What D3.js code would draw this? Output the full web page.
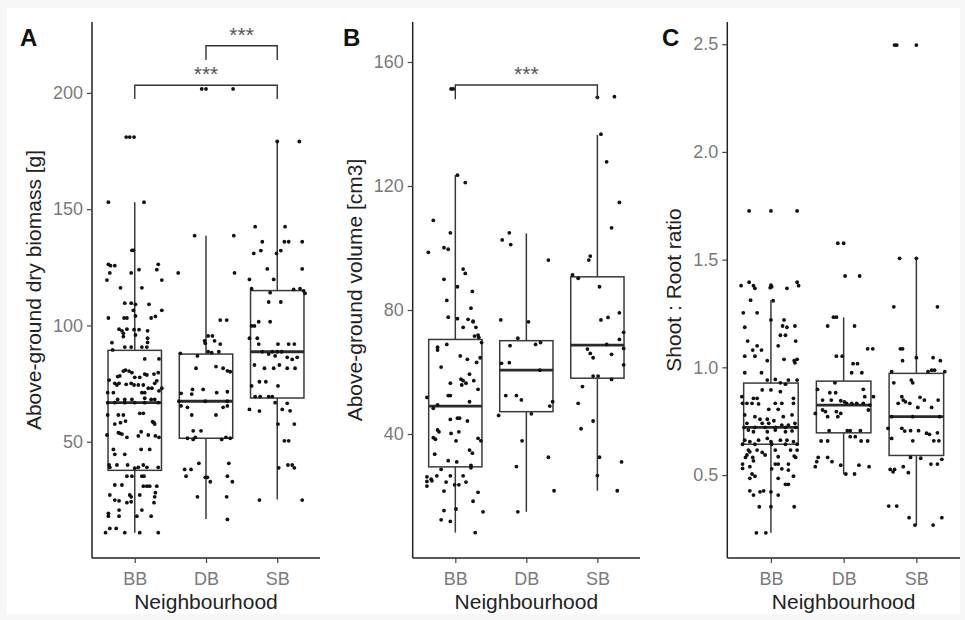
<!DOCTYPE html>
<html>
<head>
<meta charset="utf-8">
<script src="https://cdn.jsdelivr.net/npm/d3@7"></script>
<style>
body { margin: 0; background: #fff; }
svg { display: block; font-family: "Liberation Sans", Arial, sans-serif; }
</style>
</head>
<body>
<div id="chart"></div>
<script>
var groups = ["BB", "DB", "SB"];

// boxplot stats per group: [lower whisker, Q1, median, Q3, upper whisker]
var biomassBox = [[10.9, 37.7, 66.8, 89.3, 153.0], [16.8, 51.5, 67.4, 87.7, 138.6], [25.2, 68.8, 88.7, 115.0, 179.1]];
var volumeBox = [[8.2, 29.4, 49.0, 70.5, 123.5], [14.9, 47.2, 60.6, 70.1, 104.7], [21.7, 58.0, 68.7, 90.7, 136.5]];
var ratioBox = [[0.232, 0.643, 0.721, 0.927, 1.312], [0.503, 0.696, 0.825, 0.936, 1.232], [0.266, 0.591, 0.771, 0.972, 1.506]];

// jittered observations: [value, horizontal jitter as fraction of category step]
var biomassBB = [[153,-0.37],[153,0.13],[181,-0.12],[181,-0.07],[181,-0.01],[132.3,-0.04],[132.3,-0.02],
  [126.3,-0.37],[125.7,-0.34],[125.7,-0.28],[122.6,-0.35],[122.6,-0.05],[124,0.06],[126.3,0.33],[124,0.31],[119.5,0.38],[119.5,-0.39],
  [116.2,-0.2],[116.2,0.1],[109.6,-0.14],[109.6,-0.05],[109.1,0.01],[109.1,0.2],
  [106.5,-0.02],[103.2,-0.37],[103.2,-0.15],[103.2,-0.11],[104.1,0.01],[103.2,0.23],[103.9,0.29],[106.5,0.38],
  [98.4,-0.22],[97.7,-0.18],[98.4,-0.11],[96.6,-0.16],[95.2,-0.16],[98.2,-0.01],[98.2,0.06],[95.9,0.01],[97.7,0.18],[94.5,0.18],[92.7,0.18],
  [92.6,-0.32],[89.5,-0.31],[90.7,-0.14],[90.7,-0.05],[90.7,0.1],[90.7,0.17],
  [85.6,0.14],[85.6,0.34],[80.4,-0.16],[80.8,-0.13],[80.4,-0.08],[79.7,-0.04],[79.1,0.14],[78.7,0.17],[79.1,0.27],[79.7,0.33],
  [78.0,-0.24],[78.3,-0.21],[77.7,0],[77.7,0.07],[76.5,-0.36],[75.1,-0.28],[74.4,-0.25],[75.1,-0.22],
  [74.7,-0.12],[75.1,-0.05],[74.4,-0.01],[74.4,0.05],[74.4,0.12],[75.1,0.28],[76.2,0.31],[73.0,0.19],[73.0,0.24],
  [71.1,-0.3],[71.1,-0.38],[71.1,0.1],[71.1,0.14],[71.9,0.34],[73.0,0.38],
  [68.2,-0.24],[68.2,-0.14],[68.2,-0.04],[68.7,0.14],[68.2,0.23],[68.2,0.28],
  [66.8,-0.38],[66.8,-0.28],[66.8,-0.14],[66.8,0],[66.8,0.14],[66.8,0.33],
  [61.5,-0.38],[61.5,-0.23],[61.5,-0.16],[57.6,-0.28],[58.2,-0.2],[58.9,-0.13],[62.2,0.07],[62.2,0.12],[58.6,0.25],[58.2,0.27],[57.6,0.28],
  [53.9,-0.23],[53.6,-0.21],[53.3,-0.18],[51.9,-0.11],[52.5,0.05],[54.3,0.09],[52.9,0.19],[52.5,0.29],[51.9,0.34],[52.9,-0.39],
  [46.7,-0.3],[44.6,-0.28],[44.6,-0.14],[46.7,0.09],[46.7,0.21],
  [40.0,-0.36],[39.0,-0.35],[40.0,-0.25],[40.0,-0.1],[38.6,0],[39.0,0.05],[40.0,0.12],[39.0,0.17],[39.0,0.33],
  [35.2,-0.11],[35.2,-0.04],[35.2,0.1],[35.2,0.13],[31.4,-0.28],[31.4,-0.18],[30.9,0.12],[30.9,0.17],[30.9,0.21],[30.9,0.31],
  [27.1,-0.07],[26.3,-0.05],[27.1,-0.35],[24.9,-0.28],[24.6,-0.22],[23.8,-0.11],[24.2,-0.05],[27.1,0.07],[28.1,0.29],[26.3,0.28],[23.8,0.27],
  [20.6,-0.22],[19.2,-0.37],[18.0,-0.37],[18.0,-0.22],[18.0,0.03],[20.6,0.1],[18.0,0.23],
  [10.9,-0.41],[12.7,-0.35],[12.7,-0.26],[10.9,-0.14],[10.9,0.07],[10.9,0.33]];
var biomassDB = [[201.7,-0.06],[201.7,0],[201.7,0.38],[138.6,-0.16],[138.6,0.39],[122.6,-0.39],[122.6,0.4],
  [102.3,0.2],[102.3,0.29],[95.5,0.03],[95.5,0.09],[93.4,-0.02],[92.3,-0.01],[93.4,0.12],[92.0,0.2],
  [86.9,-0.12],[88.7,0.03],[88.3,0.08],[88.7,0.18],[88.0,-0.36],[81.6,-0.14],[82.3,0.14],[81.6,0.24],[80.5,0.3],[80.1,0.34],
  [72.5,-0.19],[72.5,-0.04],[70.8,-0.35],[70.5,-0.2],[71.1,0.15],[71.5,0.3],[67.4,-0.38],[67.4,-0.01],[67.4,0.3],
  [65.4,-0.35],[64.8,-0.26],[64.8,0.24],[65.4,0.3],[61.5,-0.2],[61.5,0.14],[54.7,-0.18],[54.7,-0.07],
  [51.5,-0.26],[51.0,-0.18],[51.9,-0.15],[51.0,0.22],[51.9,0.28],[51.5,0.34],
  [38.1,-0.3],[38.1,-0.21],[35.2,-0.28],[40.7,-0.1],[40.7,0.32],[34.7,-0.01],[34.7,0.02],[32.8,0.06],[35.2,0.3],[32.8,0.37],
  [26.3,-0.12],[26.3,0.29],[16.6,0.3]];
var biomassSB = [[179.1,0],[179.1,0.31],[142.5,-0.31],[142.5,0.11],[136.0,-0.21],[136.0,0.1],[136.0,0.16],[136.0,0.35],
  [132.2,-0.23],[131.0,-0.33],[132.2,0.05],[131.0,-0.01],[124.3,-0.14],[124.3,0.35],[119.8,-0.39],[119.8,-0.05],
  [115.8,-0.36],[115.5,0.23],[115.8,0.32],[114.9,0.37],[113.8,0.39],[114.1,-0.1],[110.1,-0.12],[110.1,0.05],
  [101.6,-0.26],[101.6,-0.1],[99.8,-0.36],[99.8,-0.32],[94.5,-0.39],[94.5,-0.28],[92.0,-0.26],[92.0,0.01],[92.0,0.16],[92.0,0.24],
  [88.7,-0.21],[88.7,-0.07],[88.7,0],[88.7,0.06],[87.7,-0.12],[86.9,-0.03],[86.3,0.14],[85.4,0.21],[86.3,0.28],
  [83.0,-0.32],[81.6,-0.18],[81.6,-0.05],[83.0,0.03],[81.6,0.14],[81.6,0.25],[75.8,-0.25],[75.8,-0.16],[74.0,0.01],[74.0,-0.36],
  [69.4,-0.31],[69.4,-0.24],[69.4,-0.12],[69.4,-0.07],[63.9,-0.39],[63.2,-0.25],[66.8,-0.03],[63.9,0.07],[66.5,0.14],[63.3,0.18],
  [57.6,0.01],[57.6,0.24],[50.4,0.1],[50.4,0.16],[38.8,0.02],[40.0,0.15],[40.0,0.21],[38.8,0.24],[24.9,-0.25],[24.9,0.35]];

var volumeBB = [[151.3,-0.06],[151.3,-0.03],[123.5,0.03],[121.1,0.14],[108.9,-0.31],[104.9,-0.07],[98.6,-0.38],[100.1,-0.16],[99.6,-0.1],
  [93.2,0.11],[91.8,0.14],[89.9,-0.16],[87.5,0.03],[86.0,0.24],[83.1,-0.12],[80.6,0.22],[77.7,-0.1],[77.2,0.03],[77.0,0.18],[76.4,0.25],
  [74.4,0.11],[76.2,0.25],[74.4,0.29],[71.6,0.27],[71.9,0.32],[71.2,0.33],[69.5,0.37],[68.0,-0.25],[67.1,-0.25],[68.9,-0.12],
  [65.2,0.07],[64.1,0.17],[63.1,0.3],[64.6,0.35],[61.6,-0.2],[59.3,0.2],[57.7,0.08],[57.2,0.11],[56.4,0.15],[57.2,0.26],
  [56.4,-0.07],[55.8,0.09],[54.4,0.32],[52.4,-0.1],[52.4,-0.07],[51.8,-0.4],[50.4,0.2],[48.3,-0.31],[49.4,-0.25],
  [44.7,-0.07],[45.1,0.03],[45.1,0.06],[44.2,0.17],[41.3,-0.25],[40.7,-0.23],[40.2,-0.06],[40.7,0.05],
  [38.8,-0.31],[38.3,-0.28],[37.8,0.01],[38.6,0.32],[37.8,0.36],[34.8,0.2],[33.8,0.24],[33.5,-0.29],[31.4,-0.1],[31.0,0.02],[29.9,0.22],[29.1,0.22],
  [28.6,-0.2],[26.2,-0.4],[24.7,-0.4],[23.2,-0.4],[25.4,-0.34],[24.9,-0.33],[26.5,-0.26],[26.5,-0.07],[26.5,0.11],[24.5,-0.13],
  [23.6,-0.01],[23.6,0.05],[24.5,0.15],[21.6,-0.16],[21.2,0.32],[18.3,0.25],[15.8,0.01],[15.3,-0.16],[14.9,0.39],[12.3,-0.2],[11.8,-0.07],[8.2,0.28]];
var volumeDB = [[104.9,-0.24],[102.6,-0.34],[101.1,-0.22],[96.1,0.31],[76.8,-0.36],[76.2,0.03],[70.9,-0.12],[68.9,0.13],[69.5,0.2],[68.5,-0.23],
  [62.8,-0.35],[63.0,-0.24],[60.6,0.19],[52.4,-0.29],[52.4,-0.14],[51.0,-0.07],[50.4,0.37],[49.0,0.33],[46.0,-0.39],[46.5,0.07],
  [37.8,-0.06],[29.5,-0.14],[32.5,0.31],[21.7,0.39],[14.9,-0.12]];
var volumeSB = [[148.6,0],[148.8,0.24],[136.7,0.05],[127.8,0.13],[114.7,0.31],[106.5,0.2],[97.4,-0.1],[96.1,-0.12],[91.3,-0.35],[90.2,-0.27],
  [87.5,0.03],[79.1,0.31],[76.8,0.05],[77.6,0.15],[70.5,0.31],[72.8,0.37],[68.9,0.13],[67.4,-0.14],[66.0,-0.1],[64.6,-0.06],[65.7,0.2],
  [67.6,0.37],[62.3,0.37],[58.7,-0.06],[58.7,0.01],[57.6,0.2],[55.3,-0.21],[49.9,-0.27],[44.2,-0.06],[41.7,-0.23],[32.5,0.03],[31.0,0.34],
  [26.6,0],[21.7,0.28]];

var ratioBB = [[1.726,-0.3],[1.726,0],[1.726,0.36],[1.379,-0.41],[1.395,-0.3],[1.379,-0.24],[1.367,-0.22],[1.382,0],[1.374,0.01],[1.37,-0.01],
  [1.367,0.22],[1.395,0.36],[1.379,0.38],[1.312,-0.28],[1.309,0.03],[1.253,-0.38],[1.253,-0.19],[1.22,0],[1.186,-0.36],[1.22,0.18],
  [1.192,0.16],[1.186,0.22],[1.192,0.33],[1.149,0.13],[1.149,0.2],[1.122,-0.32],[1.1,-0.19],[1.08,-0.25],[1.08,-0.13],[1.1,0.1],[1.122,0.34],
  [1.052,-0.36],[1.052,-0.22],[1.031,-0.05],[1.037,0.18],[1.031,0.32],[1.021,0.33],[1.037,0.36],[0.975,-0.36],[0.975,-0.13],
  [0.941,-0.05],[0.944,0.06],[0.928,0.13],[0.922,0.2],[0.941,0.24],[0.941,0.36],[0.895,-0.12],[0.895,0],[0.887,0.13],
  [0.864,-0.4],[0.856,-0.24],[0.856,-0.19],[0.856,0.31],[0.833,-0.39],[0.833,-0.33],[0.833,-0.26],[0.83,-0.17],[0.833,0.06],[0.833,0.15],[0.833,0.31],
  [0.805,-0.03],[0.805,0.1],[0.779,-0.36],[0.771,-0.22],[0.759,-0.15],[0.759,-0.05],[0.752,0.04],[0.771,0.17],[0.779,0.29],
  [0.74,-0.33],[0.74,-0.12],[0.74,-0.03],[0.732,0.15],[0.732,0.24],[0.74,0.33],[0.721,-0.37],[0.721,-0.22],[0.721,-0.08],[0.721,0.06],[0.721,0.2],[0.721,0.34],
  [0.709,-0.31],[0.701,-0.24],[0.701,-0.05],[0.709,0.06],[0.701,0.2],[0.705,0.29],
  [0.662,-0.36],[0.655,-0.29],[0.662,-0.17],[0.67,-0.05],[0.655,0],[0.662,0.13],[0.662,0.22],[0.655,0.31],
  [0.643,-0.39],[0.643,-0.22],[0.643,0.01],[0.643,0.2],[0.643,0.36],
  [0.616,-0.31],[0.608,-0.29],[0.616,-0.19],[0.605,-0.12],[0.593,-0.08],[0.616,0.06],[0.616,0.27],[0.616,0.36],
  [0.593,-0.33],[0.582,-0.35],[0.582,-0.25],[0.566,-0.24],[0.585,0.1],[0.588,0.32],[0.582,0.34],
  [0.551,-0.39],[0.531,-0.39],[0.539,-0.29],[0.551,0.06],[0.551,0.1],[0.551,0.24],[0.529,0.01],[0.529,0.15],[0.523,0.24],
  [0.505,-0.26],[0.495,-0.22],[0.495,0.31],[0.485,-0.29],[0.485,0.1],[0.457,0.2],[0.457,0.24],
  [0.427,-0.29],[0.407,-0.24],[0.422,-0.15],[0.427,-0.1],[0.422,0],[0.407,0.1],[0.353,-0.16],[0.353,0],[0.353,0.32],[0.232,-0.2],[0.232,-0.07]];
var ratioDB = [[1.576,-0.08],[1.576,0],[1.424,0.02],[1.424,0.22],[1.233,-0.14],[1.233,-0.1],[1.192,-0.22],[1.192,0.15],[1.086,0.33],[1.086,0.4],
  [1.052,-0.1],[1.052,-0.02],[1.017,0.13],[1.017,0.19],[0.975,0.11],[0.975,0.25],[0.928,-0.12],[0.898,-0.36],[0.898,0.27],[0.882,-0.19],[0.882,-0.11],
  [0.864,0.29],[0.848,-0.29],[0.848,-0.17],[0.845,-0.04],[0.84,0.01],[0.833,0.04],[0.833,0.11],[0.833,0.18],[0.833,0.27],[0.825,0.36],[0.864,0.41],
  [0.802,-0.29],[0.794,-0.25],[0.794,-0.1],[0.786,-0.04],[0.802,0.34],[0.786,-0.39],[0.771,-0.22],[0.771,-0.08],
  [0.706,-0.2],[0.706,0.05],[0.706,0.09],[0.706,0.23],[0.658,-0.31],[0.658,-0.22],[0.678,0.09],[0.678,0.16],[0.658,0.24],[0.658,0.33],
  [0.582,-0.35],[0.582,-0.22],[0.562,-0.16],[0.562,-0.37],[0.539,-0.39],[0.546,-0.04],[0.546,0.21],[0.539,0.35],[0.505,0.03],[0.505,0.15]];
var ratioSB = [[2.496,-0.3],[2.496,-0.27],[2.496,0],[1.506,-0.23],[1.506,0],[1.281,-0.31],[1.281,0.29],[1.086,-0.22],[1.086,-0.19],[1.031,-0.19],
  [1.045,0],[1.045,0.23],[1.031,0.33],[0.98,-0.34],[0.98,0.16],[0.987,0.21],[0.987,0.25],[0.98,0.39],
  [0.928,-0.31],[0.941,-0.07],[0.928,-0.05],[0.864,-0.2],[0.848,-0.18],[0.84,-0.15],[0.833,-0.09],[0.833,-0.25],[0.861,0.05],[0.848,0.11],
  [0.814,0.02],[0.814,0.21],[0.848,0.3],[0.771,-0.34],[0.771,-0.05],[0.771,0.32],[0.717,-0.39],[0.717,-0.2],[0.704,-0.16],[0.706,-0.08],
  [0.706,0.03],[0.694,0.14],[0.689,0.18],[0.696,0.29],[0.67,-0.34],[0.659,-0.05],[0.659,0.24],[0.659,0.31],
  [0.582,-0.08],[0.578,0.06],[0.573,0.35],[0.551,0.2],[0.551,0.29],[0.526,-0.36],[0.515,-0.32],[0.526,-0.3],[0.539,-0.18],[0.511,-0.11],
  [0.356,-0.38],[0.356,-0.27],[0.302,-0.1],[0.302,0.35],[0.268,-0.02],[0.268,0.23]];

var biomassTicks = [50, 100, 150, 200];
var volumeTicks = [40, 80, 120, 160];
var ratioTicks = [0.5, 1.0, 1.5, 2.0, 2.5];

// significance brackets: [from, to, bar value, tip value, label]
var biomassSig = [["BB", "SB", 203.3, 197.4, "***"], ["DB", "SB", 220.3, 214.2, "***"]];
var volumeSig = [["BB", "SB", 152.6, 148.0, "***"]];

var width = 965;
var height = 620;
var top_ = 22, bottom = 558;

var svg = d3.select("#chart")
    .append("svg")
    .attr("width", width)
    .attr("height", height);

// faint frame of the exported figure
svg.append("rect").attr("width", width).attr("height", height).attr("fill", "#f7f7f7");
svg.append("rect").attr("x", 7).attr("y", 8).attr("width", width - 12).attr("height", height - 14).attr("fill", "#fff");

function drawPanel(p) {
    var x = d3.scalePoint().domain(groups).range([p.x0, p.x1]).padding(0.6);
    var y = d3.scaleLinear().domain(p.domain).range([bottom, top_]);
    var step = x.step();
    var half = step * 0.375;
    var g = svg.append("g");

    // boxes
    var box = g.selectAll(".box")
        .data(p.box)
        .enter()
        .append("g")
        .attr("transform", function (d, i) { return "translate(" + x(groups[i]) + ",0)"; });
    box.append("line")
        .attr("y1", function (d) { return y(d[4]); })
        .attr("y2", function (d) { return y(d[3]); })
        .attr("stroke", "#3a3a3a").attr("stroke-width", 1.5);
    box.append("line")
        .attr("y1", function (d) { return y(d[1]); })
        .attr("y2", function (d) { return y(d[0]); })
        .attr("stroke", "#3a3a3a").attr("stroke-width", 1.5);
    box.append("rect")
        .attr("x", -half)
        .attr("width", half * 2)
        .attr("y", function (d) { return y(d[3]); })
        .attr("height", function (d) { return y(d[1]) - y(d[3]); })
        .attr("fill", "none")
        .attr("stroke", "#3a3a3a").attr("stroke-width", 1.5);
    box.append("line")
        .attr("x1", -half).attr("x2", half)
        .attr("y1", function (d) { return y(d[2]); })
        .attr("y2", function (d) { return y(d[2]); })
        .attr("stroke", "#2a2a2a").attr("stroke-width", 2.8);

    // jittered points
    p.points.forEach(function (pts, i) {
        g.selectAll(null)
            .data(pts)
            .enter()
            .append("circle")
            .attr("cx", function (d) { return x(groups[i]) + d[1] * step; })
            .attr("cy", function (d) { return y(d[0]); })
            .attr("r", 1.9)
            .attr("fill", "#111");
    });

    // significance brackets
    (p.sig || []).forEach(function (s) {
        var xa = x(s[0]), xb = x(s[1]);
        g.append("path")
            .attr("d", "M" + xa + "," + y(s[3]) + "V" + y(s[2]) + "H" + xb + "V" + y(s[3]))
            .attr("fill", "none")
            .attr("stroke", "#333").attr("stroke-width", 1.4);
        g.append("text")
            .attr("x", (xa + xb) / 2)
            .attr("y", y(s[2]) - 4)
            .attr("text-anchor", "middle")
            .style("fill", "#555")
            .style("font-size", "21px")
            .text(s[4]);
    });

    // axes
    var ya = g.append("g")
        .attr("transform", "translate(" + p.x0 + ",0)")
        .call(d3.axisLeft(y).tickValues(p.ticks).tickFormat(p.fmt).tickSize(5).tickSizeOuter(0).tickPadding(4));
    var xa = g.append("g")
        .attr("transform", "translate(0," + bottom + ")")
        .call(d3.axisBottom(x).tickSize(5).tickSizeOuter(0).tickPadding(9));
    [ya, xa].forEach(function (a) {
        a.select(".domain").attr("stroke", "#222").attr("stroke-width", 1.5);
        a.selectAll(".tick line").attr("stroke", "#444").attr("stroke-width", 1.2);
        a.selectAll(".tick text").style("fill", "#7a7a7a").style("font-size", "18px").style("font-family", "'Liberation Sans', Arial, sans-serif");
    });
    ya.select(".domain").attr("d", "M0," + top_ + "V" + bottom);
    xa.select(".domain").attr("d", "M" + p.x0 + ",0H" + p.x1);

    // titles
    g.append("text")
        .attr("transform", "translate(" + p.titleX + "," + ((top_ + bottom) / 2) + ") rotate(-90)")
        .attr("text-anchor", "middle")
        .style("fill", "#222")
        .style("font-size", "21px")
        .text(p.ylab);
    g.append("text")
        .attr("x", (p.x0 + p.x1) / 2)
        .attr("y", 609)
        .attr("text-anchor", "middle")
        .style("fill", "#222")
        .style("font-size", "21px")
        .text("Neighbourhood");
    g.append("text")
        .attr("x", p.tagX)
        .attr("y", 46)
        .style("fill", "#111")
        .style("font-size", "24px")
        .style("font-weight", "bold")
        .text(p.tag);
}

drawPanel({ x0: 92, x1: 320, domain: [0, 230.5], box: biomassBox, points: [biomassBB, biomassDB, biomassSB],
    ticks: biomassTicks, fmt: d3.format("d"), sig: biomassSig, ylab: "Above-ground dry biomass [g]", titleX: 41, tag: "A", tagX: 20 });
drawPanel({ x0: 412.7, x1: 640, domain: [0, 172.9], box: volumeBox, points: [volumeBB, volumeDB, volumeSB],
    ticks: volumeTicks, fmt: d3.format("d"), sig: volumeSig, ylab: "Above-ground volume [cm3]", titleX: 362, tag: "B", tagX: 343 });
drawPanel({ x0: 727.3, x1: 960, domain: [0.115, 2.603], box: ratioBox, points: [ratioBB, ratioDB, ratioSB],
    ticks: ratioTicks, fmt: d3.format(".1f"), sig: [], ylab: "Shoot : Root ratio", titleX: 681, tag: "C", tagX: 662 });
</script>
</body>
</html>
